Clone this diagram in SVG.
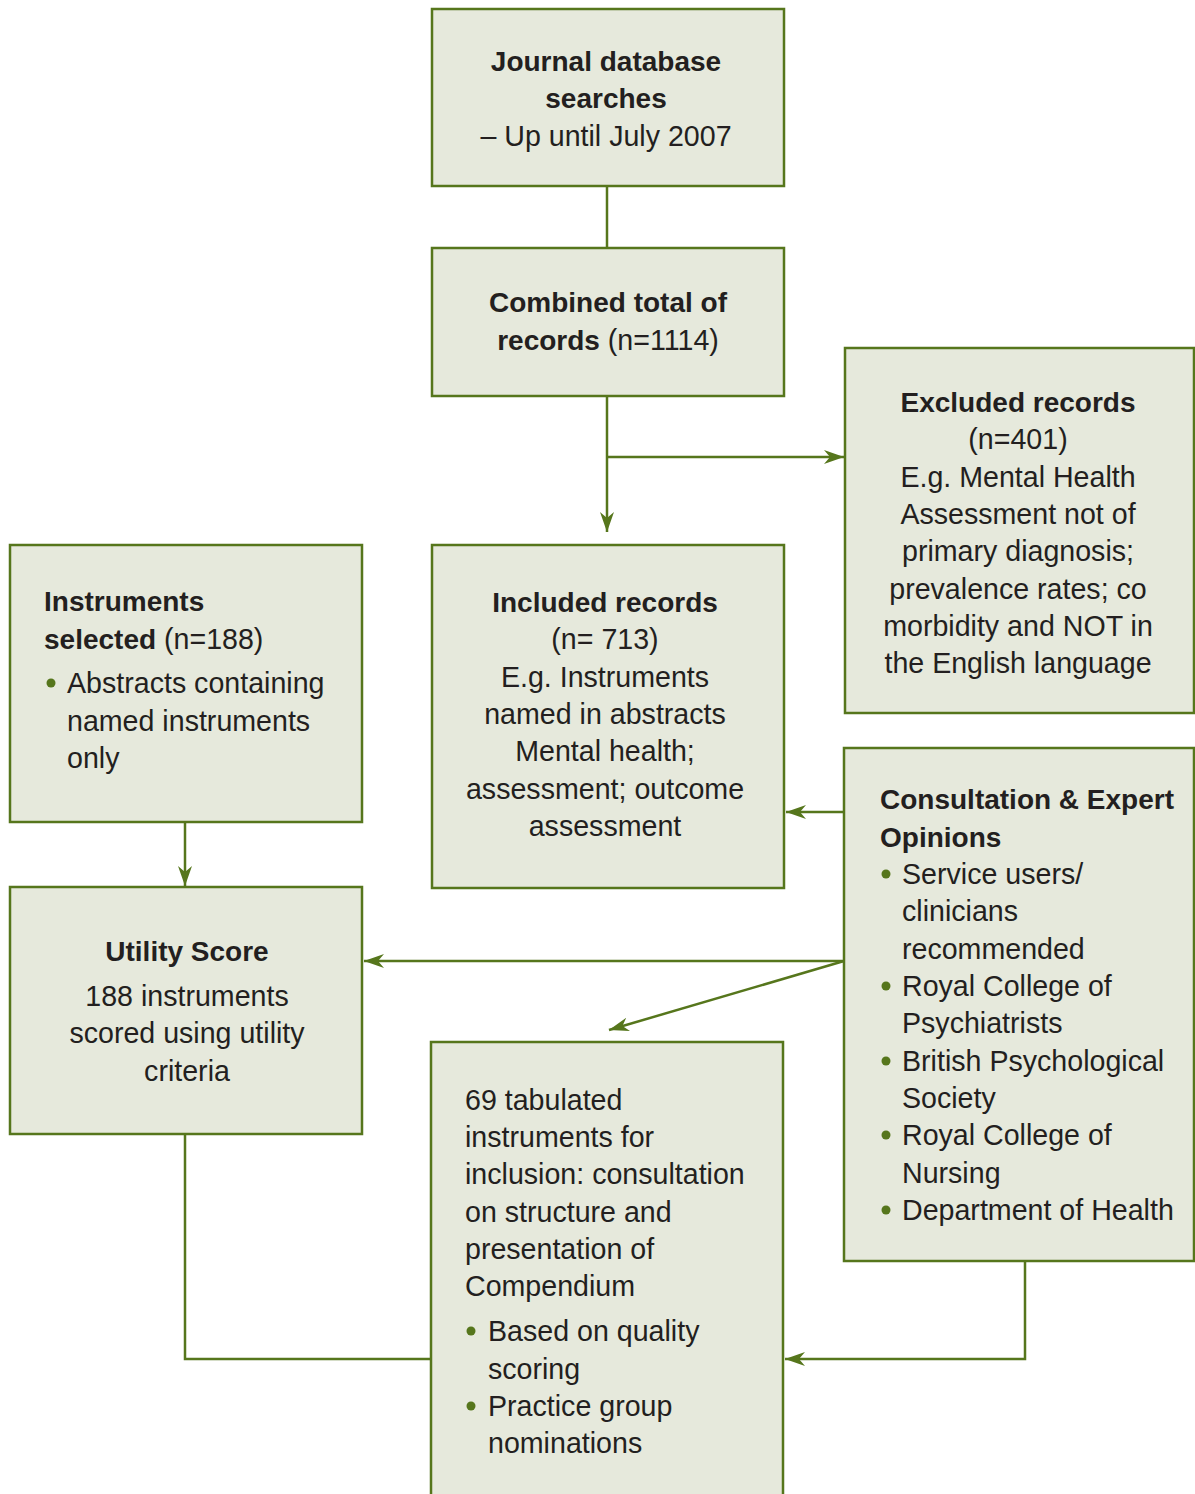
<svg xmlns="http://www.w3.org/2000/svg" width="1195" height="1494" viewBox="0 0 1195 1494">
<style>
.box{fill:#e6e9dc;stroke:#56761c;stroke-width:2.5}
.t{font-family:"Liberation Sans",Arial,sans-serif;font-size:28.6px;fill:#231f20}
.c{text-anchor:middle}
.b{font-weight:bold;font-size:28px}
.ln{fill:none;stroke:#56761c;stroke-width:2.5}
.dot{fill:#56761c}
</style>
<defs>
<marker id="ah" markerUnits="userSpaceOnUse" markerWidth="24" markerHeight="16" refX="20" refY="7" orient="auto">
<path d="M0,0 L20,7 L0,14 L6,7 z" fill="#56761c"/>
</marker>
</defs>
<rect width="1195" height="1494" fill="#fff"/>
<g id="connectors">
<path class="ln" d="M607,186 V248"/>
<path class="ln" d="M607,396 V532" marker-end="url(#ah)"/>
<path class="ln" d="M607,457 H844" marker-end="url(#ah)"/>
<path class="ln" d="M844,812 H786" marker-end="url(#ah)"/>
<path class="ln" d="M185,817 V886" marker-end="url(#ah)"/>
<path class="ln" d="M844,961 H364" marker-end="url(#ah)"/>
<path class="ln" d="M844,961 L609,1030" marker-end="url(#ah)"/>
<path class="ln" d="M185,1134 V1359 H431"/>
<path class="ln" d="M1025,1261 V1359 H785" marker-end="url(#ah)"/>
</g>
<g id="journal">
<rect class="box" x="432" y="9" width="352" height="177"/>
<text class="t c b" x="606" y="71">Journal database</text>
<text class="t c b" x="606" y="108">searches</text>
<text class="t c" x="606" y="146">– Up until July 2007</text>
</g>
<g id="combined">
<rect class="box" x="432" y="248" width="352" height="148"/>
<text class="t c b" x="608" y="312">Combined total of</text>
<text class="t c" x="608" y="350"><tspan class="b">records</tspan> (n=1114)</text>
</g>
<g id="excluded">
<rect class="box" x="845" y="348" width="349" height="365"/>
<text class="t c b" x="1018" y="412">Excluded records</text>
<text class="t c" x="1018" y="449">(n=401)</text>
<text class="t c" x="1018" y="487">E.g. Mental Health</text>
<text class="t c" x="1018" y="524">Assessment not of</text>
<text class="t c" x="1018" y="561">primary diagnosis;</text>
<text class="t c" x="1018" y="599">prevalence rates; co</text>
<text class="t c" x="1018" y="636">morbidity and NOT in</text>
<text class="t c" x="1018" y="673">the English language</text>
</g>
<g id="instruments">
<rect class="box" x="10" y="545" width="352" height="277"/>
<text class="t b" x="44" y="611">Instruments</text>
<text class="t" x="44" y="649"><tspan class="b">selected</tspan> (n=188)</text>
<circle class="dot" cx="51" cy="683" r="4.5"/>
<text class="t" x="67" y="693">Abstracts containing</text>
<text class="t" x="67" y="731">named instruments</text>
<text class="t" x="67" y="768">only</text>
</g>
<g id="included">
<rect class="box" x="432" y="545" width="352" height="343"/>
<text class="t c b" x="605" y="612">Included records</text>
<text class="t c" x="605" y="649">(n= 713)</text>
<text class="t c" x="605" y="687">E.g. Instruments</text>
<text class="t c" x="605" y="724">named in abstracts</text>
<text class="t c" x="605" y="761">Mental health;</text>
<text class="t c" x="605" y="799">assessment; outcome</text>
<text class="t c" x="605" y="836">assessment</text>
</g>
<g id="consultation">
<rect class="box" x="844" y="748" width="350" height="513"/>
<text class="t b" x="880" y="809">Consultation &amp; Expert</text>
<text class="t b" x="880" y="847">Opinions</text>
<circle class="dot" cx="886" cy="874" r="4.5"/>
<text class="t" x="902" y="884">Service users/</text>
<text class="t" x="902" y="921">clinicians</text>
<text class="t" x="902" y="959">recommended</text>
<circle class="dot" cx="886" cy="986" r="4.5"/>
<text class="t" x="902" y="996">Royal College of</text>
<text class="t" x="902" y="1033">Psychiatrists</text>
<circle class="dot" cx="886" cy="1061" r="4.5"/>
<text class="t" x="902" y="1071">British Psychological</text>
<text class="t" x="902" y="1108">Society</text>
<circle class="dot" cx="886" cy="1135" r="4.5"/>
<text class="t" x="902" y="1145">Royal College of</text>
<text class="t" x="902" y="1183">Nursing</text>
<circle class="dot" cx="886" cy="1210" r="4.5"/>
<text class="t" x="902" y="1220">Department of Health</text>
</g>
<g id="utility">
<rect class="box" x="10" y="887" width="352" height="247"/>
<text class="t c b" x="187" y="961">Utility Score</text>
<text class="t c" x="187" y="1006">188 instruments</text>
<text class="t c" x="187" y="1043">scored using utility</text>
<text class="t c" x="187" y="1081">criteria</text>
</g>
<g id="tabulated">
<rect class="box" x="431" y="1042" width="352" height="470"/>
<text class="t" x="465" y="1110">69 tabulated</text>
<text class="t" x="465" y="1147">instruments for</text>
<text class="t" x="465" y="1184">inclusion: consultation</text>
<text class="t" x="465" y="1222">on structure and</text>
<text class="t" x="465" y="1259">presentation of</text>
<text class="t" x="465" y="1296">Compendium</text>
<circle class="dot" cx="471" cy="1331" r="4.5"/>
<text class="t" x="488" y="1341">Based on quality</text>
<text class="t" x="488" y="1379">scoring</text>
<circle class="dot" cx="471" cy="1406" r="4.5"/>
<text class="t" x="488" y="1416">Practice group</text>
<text class="t" x="488" y="1453">nominations</text>
</g>
</svg>
